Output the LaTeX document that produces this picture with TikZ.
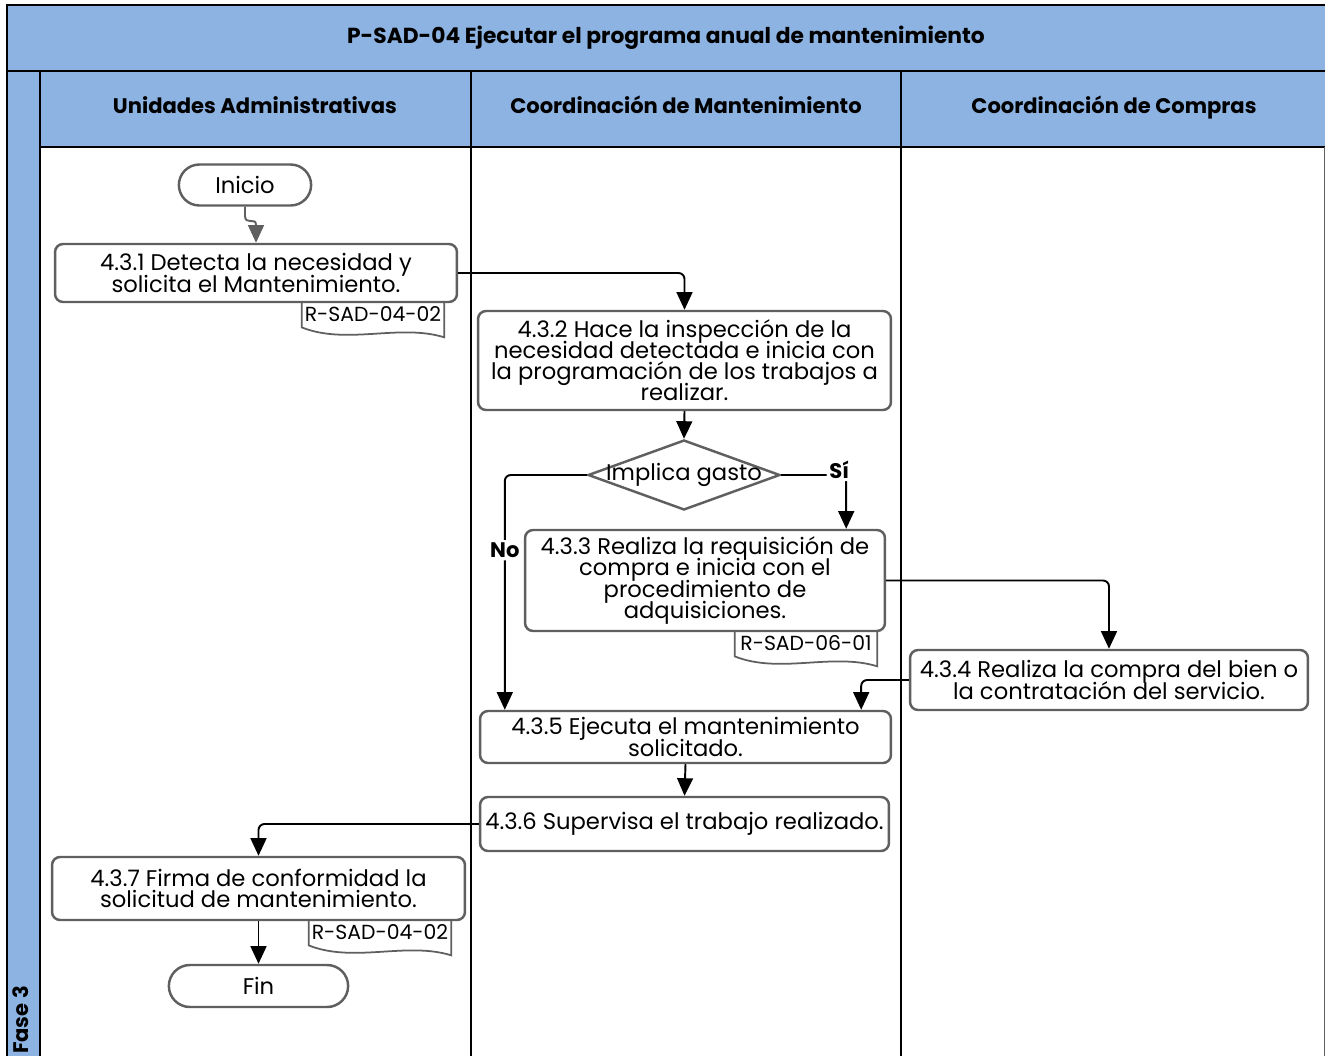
\documentclass[tikz,border=0pt]{standalone}
\usepackage{fontspec}
\setmainfont{Poppins}
\usepackage{tikz}
\usetikzlibrary{positioning}
\usetikzlibrary{calc}
\usetikzlibrary{arrows.meta,shapes.geometric,shapes.misc}
\definecolor{lanefill}{RGB}{141,179,226}
\definecolor{boxline}{RGB}{95,95,95}
\newcommand\boxfont{\fontsize{12.9}{12}\selectfont\lineskiplimit=-20pt\relax}

\begin{document}
\begin{tikzpicture}[x=0.02cm, y=-0.02cm,
    txt/.style={font=\boxfont},
    actbox/.style={txt, draw=boxline, line width=1.4pt, rounded corners=0.16cm,
    fill=white, align=center, inner sep=2pt},
    term/.style={txt, rounded rectangle, draw=boxline, line width=1.4pt, fill=white},
    decision/.style={diamond, draw=boxline, line width=1.4pt, fill=white,
    minimum width=3.84cm, minimum height=1.4cm, inner sep=0pt},
    docbox/.style={font=\fontsize{11.6}{12}\selectfont, minimum width=2.84cm, minimum height=0.5cm, inner sep=0pt},
    docline/.style={draw=boxline, line width=1pt},
    flow/.style={-{Triangle[width=9pt,length=10pt]}, line width=1.1pt, rounded corners=0.12cm},
    lane/.style={line width=1.2pt},
    head/.style={font=\bfseries\fontsize{12}{14}\selectfont, text height=1.6ex, text depth=0.3ex},
    tag/.style={font=\bfseries\fontsize{12}{12}\selectfont, fill=white, inner sep=1.5pt},
    ]

    \useasboundingbox (0,0) rectangle (1325,1055);

    % swimlanes
    \fill[lanefill] (7,5) rectangle (1330,147);
    \fill[lanefill] (7,71) rectangle (40,1060);
    \draw[lane] (1330,5) -- (7,5) -- (7,1060);
    \draw[lane] (7,71) -- (1330,71);
    \draw[lane] (40,147) -- (1330,147);
    \draw[lane] (40,71) -- (40,1060);
    \draw[lane] (471,71) -- (471,1060);
    \draw[lane] (901,71) -- (901,1060);
    \draw[boxline, thin] (1324,147) -- (1324,1060);

    \node[head, font=\bfseries\fontsize{12.4}{14}\selectfont] (title) at (666,37) {P-SAD-04 Ejecutar el programa anual de mantenimiento};
    \node[head] (uadm) at (255,107) {Unidades Administrativas};
    \node[head] (cman) at (686,107) {Coordinación de Mantenimiento};
    \node[head] (ccom) at (1114,107) {Coordinación de Compras};
    \node[head, rotate=90] (fase) at (22,1020) {Fase 3};

    % activities
    \node[term, minimum width=2.88cm, minimum height=0.82cm] (inicio) at (245,185) {Inicio};
    \node[actbox, minimum width=8.04cm, minimum height=1.16cm] (a1) at (256,273)
        {4.3.1 Detecta la necesidad y\\solicita el Mantenimiento.};
    \node[docbox] (d1) at (373,314.5) {R-SAD-04-02};
    \node[actbox, minimum width=8.26cm, minimum height=1.98cm] (a2) at (684.5,360.5)
        {4.3.2 Hace la inspección de la\\necesidad detectada e inicia con\\la programación de los trabajos a\\realizar.};
    \node[decision, label={[txt]center:Implica gasto}] (dec) at (684,475) {};
    \node[actbox, minimum width=7.2cm, minimum height=2.02cm] (a3) at (705,580.5)
        {4.3.3 Realiza la requisición de\\compra e inicia con el\\procedimiento de\\adquisiciones.};
    \node[docbox] (d3) at (806,643.5) {R-SAD-06-01};
    \node[actbox, minimum width=7.96cm, minimum height=1.2cm] (a4) at (1109,680)
        {4.3.4 Realiza la compra del bien o\\la contratación del servicio.};
    \node[actbox, minimum width=8.22cm, minimum height=1.04cm] (a5) at (685.5,737)
        {4.3.5 Ejecuta el mantenimiento\\solicitado.};
    \node[actbox, minimum width=8.18cm, minimum height=1.08cm] (a6) at (684.5,824)
        {4.3.6 Supervisa el trabajo realizado.};
    \node[actbox, minimum width=8.26cm, minimum height=1.26cm] (a7) at (258.5,888.5)
        {4.3.7 Firma de conformidad la\\solicitud de mantenimiento.};
    \node[docbox] (d7) at (380,932.5) {R-SAD-04-02};
    \node[term, minimum width=3.82cm, minimum height=0.84cm] (fin) at (258.5,986) {Fin};

    % documents
    \draw[docline] (d1.north west) -- (d1.south west) .. controls +(45,18) and +(-45,-14) .. ($(d1.south east)+(0,10)$) -- (d1.north east);
    \draw[docline] (d3.north west) -- (d3.south west) .. controls +(45,18) and +(-45,-14) .. ($(d3.south east)+(0,10)$) -- (d3.north east);
    \draw[docline] (d7.north west) -- (d7.south west) .. controls +(45,18) and +(-45,-14) .. ($(d7.south east)+(0,10)$) -- (d7.north east);

    % flow
    \draw[flow, boxline, rounded corners=0pt] (inicio.south) -- ++(0,9) .. controls +(0,10) and +(0,-8) .. ($(a1.north)+(0,-18)$) -- (a1.north);
    \draw[flow] (a1.east) -| (a2.north);
    \draw[flow] (a2.south) -- (dec.north);
    \draw[flow] (dec.east) -| node[tag, pos=0.5, xshift=-4pt, yshift=3pt] {Sí} ([xshift=-0.8cm]a3.north east);
    \draw[flow] (dec.west) -| node[tag, pos=0.66] {No} ([xshift=0.52cm]a5.north west);
    \draw[flow] (a3.east) -| (a4.north);
    \draw[flow] (a4.west) -| ([xshift=-0.62cm]a5.north east);
    \draw[flow] (a5.south) -- (a6.north);
    \draw[flow] (a6.west) -| (a7.north);
    \draw[flow] (a7.south) -- (fin.north);
\end{tikzpicture}
\end{document}
